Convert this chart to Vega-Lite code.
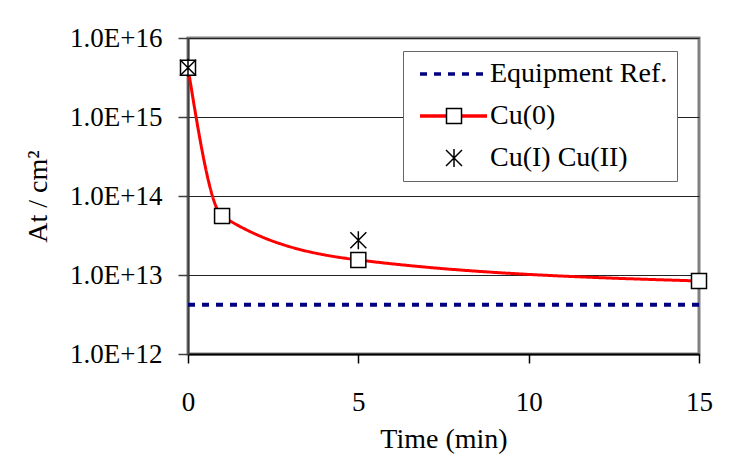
{
  "$schema": "https://vega.github.io/schema/vega-lite/v6.json",
  "width": 511,
  "height": 316,
  "autosize": {"type": "none"},
  "padding": {"left": 188, "top": 38, "right": 49, "bottom": 108},
  "background": "white",
  "config": {
    "font": "Liberation Serif",
    "view": {"stroke": "#808080", "strokeWidth": 3},
    "axis": {"labelFont": "Liberation Serif", "titleFont": "Liberation Serif", "labelColor": "black", "titleColor": "black", "titleFontWeight": "normal"}
  },
  "data": {
    "values": [
      {"series": "Equipment Ref.", "time": 0, "value": 4.2e12},
      {"series": "Equipment Ref.", "time": 15, "value": 4.2e12},
      {"series": "Cu(0)", "time": 0, "value": 4.2e15},
      {"series": "Cu(0)", "time": 1, "value": 5.6e13},
      {"series": "Cu(0)", "time": 5, "value": 1.55e13},
      {"series": "Cu(0)", "time": 15, "value": 8.4e12},
      {"series": "Cu(I) Cu(II)", "time": 0, "value": 4.2e15},
      {"series": "Cu(I) Cu(II)", "time": 5, "value": 2.75e13}
    ]
  },
  "encoding": {
    "x": {
      "field": "time", "type": "quantitative",
      "scale": {"domain": [0, 15], "nice": false},
      "axis": {"values": [0, 5, 10, 15], "title": "Time (min)", "labelFontSize": 27, "titleFontSize": 28, "grid": false, "labelFlush": false,
        "domainColor": "black", "domainWidth": 2, "tickColor": "black", "tickSize": 9, "tickWidth": 1.5, "labelPadding": 26, "titlePadding": 10}
    },
    "y": {
      "field": "value", "type": "quantitative",
      "scale": {"type": "log", "domain": [1e12, 1e16], "nice": false},
      "axis": {"values": [1e12, 1e13, 1e14, 1e15, 1e16], "labelExpr": "'1.0E+' + round(log(datum.value) / LN10)",
        "title": "At / cm²", "labelFontSize": 27, "titleFontSize": 28, "grid": true, "gridColor": "#222222", "gridWidth": 1,
        "domainColor": "#404040", "domainWidth": 2, "tickColor": "#404040", "tickSize": 10, "tickWidth": 1.5, "labelPadding": 16, "titlePadding": 17}
    }
  },
  "layer": [
    {
      "transform": [{"filter": "datum.series === 'Equipment Ref.'"}],
      "mark": {"type": "line", "strokeWidth": 4},
      "encoding": {
        "stroke": {"field": "series", "type": "nominal",
          "scale": {"domain": ["Equipment Ref.", "Cu(0)", "Cu(I) Cu(II)"], "range": ["#000080", "#ff0000", "transparent"]},
          "legend": {"orient": "none", "legendX": 215, "legendY": 13, "title": null, "padding": 9,
            "symbolType": "M-3.4,0H3.3", "symbolSize": 400, "symbolStrokeWidth": 3.5, "symbolOffset": 28,
            "labelFont": "Liberation Serif", "labelFontSize": 28, "labelOpacity": 0, "labelOffset": 22, "labelLimit": 400, "rowPadding": 14,
            "fillColor": "white", "strokeColor": "#666666", "zindex": 1}},
        "strokeDash": {"field": "series", "type": "nominal",
          "scale": {"domain": ["Equipment Ref.", "Cu(0)", "Cu(I) Cu(II)"], "range": [[7, 7], [1, 0], [1, 0]]}}
      }
    },
    {
      "transform": [{"filter": "datum.series === 'Cu(0)'"}],
      "mark": {"type": "line", "strokeWidth": 3, "interpolate": "monotone"},
      "encoding": {
        "stroke": {"field": "series", "type": "nominal"},
        "strokeDash": {"field": "series", "type": "nominal"}
      }
    },
    {
      "transform": [{"filter": "datum.series !== 'Equipment Ref.'"}],
      "mark": {"type": "point", "filled": false, "fill": "white", "strokeWidth": 1.5, "size": 400, "opacity": 1},
      "encoding": {
        "color": {"field": "series", "type": "nominal",
          "scale": {"domain": ["Equipment Ref.", "Cu(0)", "Cu(I) Cu(II)", "_"], "range": ["black", "black", "black", "black"]}},
        "shape": {"field": "series", "type": "nominal",
          "scale": {"domain": ["Equipment Ref.", "Cu(0)", "Cu(I) Cu(II)", "_"],
            "range": ["M0,0", "M-0.75,-0.75H0.75V0.75H-0.75Z", "M-0.8,-0.8L0.8,0.8M-0.8,0.8L0.8,-0.8M0,-0.9V0.9", "M0,0"]},
          "legend": {"orient": "none", "legendX": 215, "legendY": 13, "title": null, "padding": 9,
            "symbolSize": 400, "symbolStrokeWidth": 1.5, "symbolFillColor": "white", "symbolOffset": 28,
            "labelFont": "Liberation Serif", "labelFontSize": 28, "labelColor": "black", "labelOffset": 22, "labelLimit": 400, "rowPadding": 14,
            "labelExpr": "datum.value === '_' ? '' : datum.label", "zindex": 2}
        }
      }
    }
  ]
}
